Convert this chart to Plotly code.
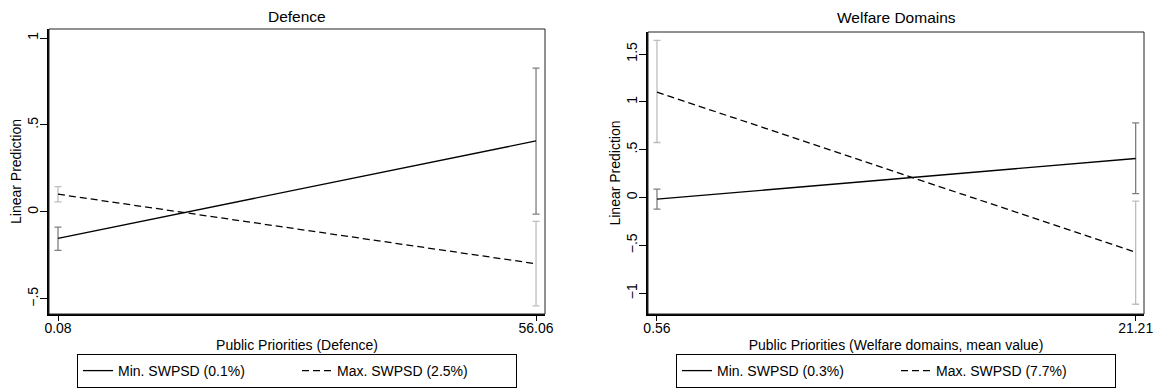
import plotly.graph_objects as go

# ---------------- data ----------------
# Panel 1: Defence
def_x = [0.08, 56.06]
def_x_labels = ["0.08", "56.06"]
def_min_pred = [-0.152, 0.408]
def_min_lo = [-0.221, -0.013]
def_min_hi = [-0.087, 0.827]
def_max_pred = [0.102, -0.298]
def_max_lo = [0.058, -0.540]
def_max_hi = [0.146, -0.054]
def_y_ticks = [-0.5, 0, 0.5, 1]
def_y_labels = ["\u2212.5", "0", ".5", "1"]

# Panel 2: Welfare Domains
wel_x = [0.56, 21.21]
wel_x_labels = ["0.56", "21.21"]
wel_min_pred = [-0.017, 0.408]
wel_min_lo = [-0.121, 0.042]
wel_min_hi = [0.088, 0.781]
wel_max_pred = [1.102, -0.571]
wel_max_lo = [0.575, -1.115]
wel_max_hi = [1.643, -0.038]
wel_y_ticks = [-1, -0.5, 0, 0.5, 1, 1.5]
wel_y_labels = ["\u22121", "\u2212.5", "0", ".5", "1", "1.5"]

names_def = ["Min. SWPSD (0.1%)", "Max. SWPSD (2.5%)"]
names_wel = ["Min. SWPSD (0.3%)", "Max. SWPSD (7.7%)"]

FONT = "Liberation Sans, Arial, sans-serif"
W, H = 1157, 390
DARK_CI = "#7f7f7f"
LIGHT_CI = "#bdbdbd"


def err(pred, lo, hi):
    return [h - p for p, h in zip(pred, hi)], [p - l for p, l in zip(pred, lo)]


fig = go.Figure()


def add_pair(x, mn, mn_lo, mn_hi, mx, mx_lo, mx_hi, names, xa, ya, leg):
    up, dn = err(mn, mn_lo, mn_hi)
    fig.add_trace(go.Scatter(
        x=x, y=mn, mode="lines", name=names[0], xaxis=xa, yaxis=ya, legend=leg,
        line=dict(color="black", width=1.3),
        error_y=dict(type="data", array=up, arrayminus=dn, color=DARK_CI,
                     thickness=1.3, width=3.5)))
    up, dn = err(mx, mx_lo, mx_hi)
    fig.add_trace(go.Scatter(
        x=x, y=mx, mode="lines", name=names[1], xaxis=xa, yaxis=ya, legend=leg,
        line=dict(color="black", width=1.3, dash="7px,4px"),
        error_y=dict(type="data", array=up, arrayminus=dn, color=LIGHT_CI,
                     thickness=1.3, width=3.5)))


add_pair(def_x, def_min_pred, def_min_lo, def_min_hi,
         def_max_pred, def_max_lo, def_max_hi, names_def, "x", "y", "legend")
add_pair(wel_x, wel_min_pred, wel_min_lo, wel_min_hi,
         wel_max_pred, wel_max_lo, wel_max_hi, names_wel, "x2", "y2", "legend2")

# geometry (pixels -> paper)
L1, R1 = 49, 545
L2, R2 = 648, 1144
BOT = 314
TOP1, TOP2 = 29, 32


def px(v):
    return v / W


def py(v):
    return (H - v) / H


axis_common = dict(showline=True, linecolor="black", linewidth=1.5,
                   ticks="outside", tickcolor="black", tickwidth=1.2,
                   showgrid=False, zeroline=False, automargin=False,
                   tickfont=dict(family=FONT, size=14, color="black"),
                   title_font=dict(family=FONT, size=14, color="black"))

fig.update_layout(
    template="none",
    width=W, height=H,
    margin=dict(l=0, r=0, t=0, b=0, autoexpand=False),
    paper_bgcolor="white", plot_bgcolor="white",
    font=dict(family=FONT, size=14, color="black"),
    xaxis=dict(domain=[px(L1), px(R1)], anchor="y", range=[-0.974, 57.11],
               tickvals=def_x, ticktext=def_x_labels, ticklen=5,
               ticklabelstandoff=-5,
               title=dict(text="Public Priorities (Defence)", standoff=6),
               **axis_common),
    yaxis=dict(domain=[py(BOT), py(TOP1)], anchor="x", range=[-0.587, 1.052],
               tickvals=def_y_ticks, ticktext=def_y_labels, ticklen=7,
               tickangle=-90, ticklabelstandoff=-3,
               title=dict(text="Linear Prediction", standoff=0),
               **axis_common),
    xaxis2=dict(domain=[px(L2), px(R2)], anchor="y2", range=[0.172, 21.57],
                tickvals=wel_x, ticktext=wel_x_labels, ticklen=5,
                ticklabelstandoff=-5,
                title=dict(text="Public Priorities (Welfare domains, mean value)", standoff=6),
                **axis_common),
    yaxis2=dict(domain=[py(BOT), py(TOP2)], anchor="x2", range=[-1.217, 1.73],
                tickvals=wel_y_ticks, ticktext=wel_y_labels, ticklen=7,
                tickangle=-90, ticklabelstandoff=-3,
                title=dict(text="Linear Prediction", standoff=0),
                **axis_common),
    legend=dict(orientation="h", x=px((L1 + R1) / 2), xanchor="center",
                y=py(388), yanchor="bottom", bordercolor="black", borderwidth=1,
                entrywidth=174, font=dict(family=FONT, size=14, color="black"),
                bgcolor="white"),
    legend2=dict(orientation="h", x=px((L2 + R2) / 2), xanchor="center",
                 y=py(388), yanchor="bottom", bordercolor="black", borderwidth=1,
                 entrywidth=174, font=dict(family=FONT, size=14, color="black"),
                 bgcolor="white"),
    showlegend=True,
)

# subplot titles
fig.add_annotation(text="Defence", x=(L1 + R1) / 2 / W, y=py(17), xref="paper", yref="paper",
                   xanchor="center", yanchor="middle",
                   showarrow=False, font=dict(family=FONT, size=15.5, color="black"))
fig.add_annotation(text="Welfare Domains", x=(L2 + R2) / 2 / W, y=py(18), xref="paper", yref="paper",
                   xanchor="center", yanchor="middle",
                   showarrow=False, font=dict(family=FONT, size=15.5, color="black"))

# thin outer frame of each plot region
for xr, yr in (("x domain", "y domain"), ("x2 domain", "y2 domain")):
    fig.add_shape(type="rect", xref=xr, yref=yr, x0=0, x1=1, y0=0, y1=1,
                  line=dict(color="#222222", width=1), layer="above")

fig.write_html("out.html")
